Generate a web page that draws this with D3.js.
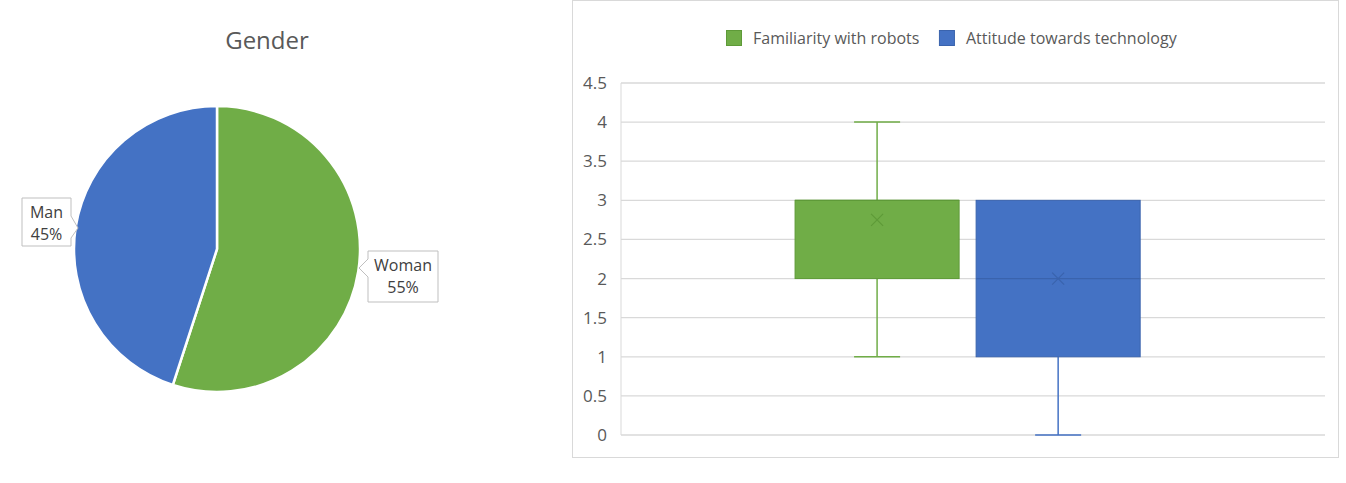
<!DOCTYPE html>
<html>
<head>
<meta charset="utf-8">
<script src="https://cdn.jsdelivr.net/npm/d3@7"></script>
<style>
  body { margin: 0; background: #fff; }
  svg { display: block; font-family: "Open Sans", "Segoe UI", sans-serif; }
</style>
</head>
<body>
<svg width="1346" height="483"></svg>
<script>
// pie data
const genderLabels = ["Woman", "Man"];
const genderValues = [55, 45];
const genderColors = ["#70AD47", "#4472C4"];

// box plot data
const seriesNames = ["Familiarity with robots", "Attitude towards technology"];
const whiskerLow = [1, 0];
const quart1 = [2, 1];
const medians = [3, 2];
const quart3 = [3, 3];
const whiskerHigh = [4, 3];
const means = [2.75, 2];
const seriesFill = ["#70AD47", "#4472C4"];
const seriesEdge = ["#5E9A38", "#3A63AD"];
const yTicks = [0, 0.5, 1, 1.5, 2, 2.5, 3, 3.5, 4, 4.5];

const svg = d3.select("svg");

drawPie();
drawBoxes();

function drawPie() {
    const g = svg.append("g");
    g.append("text")
        .attr("x", 267).attr("y", 49)
        .attr("text-anchor", "middle")
        .style("font-size", "24px")
        .style("fill", "#595959")
        .text("Gender");

    const cx = 217, cy = 249, r = 143;
    const pie = d3.pie().sort(null).value(d => d.value);
    const arcs = pie(genderLabels.map((name, i) => ({ name, value: genderValues[i], color: genderColors[i] })));
    const arc = d3.arc().innerRadius(0).outerRadius(r);

    g.append("g")
        .attr("transform", `translate(${cx},${cy})`)
        .selectAll("path")
        .data(arcs)
        .join("path")
        .attr("d", arc)
        .style("fill", d => d.data.color)
        .style("stroke", "#fff")
        .style("stroke-width", 2.5);

    // callout boxes (box position, size, side the pointer sits on)
    const callouts = [
        { x: 368, y: 251, w: 70, h: 51, side: "left" },
        { x: 22, y: 198, w: 49, h: 48, side: "right" }
    ];
    arcs.forEach((d, i) => {
        const c = callouts[i];
        const pct = Math.round(d.data.value / d3.sum(genderValues) * 100) + "%";
        let pts;
        if (c.side === "left") {
            pts = [[c.x, c.y], [c.x + c.w, c.y], [c.x + c.w, c.y + c.h], [c.x, c.y + c.h],
                   [c.x, c.y + 26], [c.x - 9, c.y + 17], [c.x, c.y + 8]];
        } else {
            pts = [[c.x, c.y], [c.x + c.w, c.y], [c.x + c.w, c.y + 18], [c.x + c.w + 7, c.y + 30],
                   [c.x + c.w, c.y + 40], [c.x + c.w, c.y + c.h], [c.x, c.y + c.h]];
        }
        g.append("path")
            .attr("d", d3.line()(pts) + "Z")
            .style("fill", "#fff")
            .style("stroke", "#BFBFBF")
            .style("stroke-width", 1);
        const t = g.append("text")
            .attr("text-anchor", "middle")
            .style("font-size", "16px")
            .style("fill", "#404040");
        t.append("tspan").attr("x", c.x + c.w / 2).attr("y", c.y + 20).text(d.data.name);
        t.append("tspan").attr("x", c.x + c.w / 2).attr("y", c.y + 42).text(pct);
    });
}

function drawBoxes() {
    const g = svg.append("g");

    // chart frame
    g.append("rect")
        .attr("x", 572.5).attr("y", 0.5)
        .attr("width", 766).attr("height", 457)
        .style("fill", "none")
        .style("stroke", "#D9D9D9");

    const y = d3.scaleLinear().domain([0, 4.5]).range([435, 83]);
    const xCat = d3.scaleBand().domain(["1"]).range([621, 1325])
        .paddingInner(0).paddingOuter(0.52).align(0.485);
    const xSer = d3.scaleBand().domain(seriesNames).range([0, xCat.bandwidth()])
        .paddingInner(0.094);

    // gridlines
    g.append("g")
        .selectAll("line")
        .data(yTicks)
        .join("line")
        .attr("x1", 621).attr("x2", 1325)
        .attr("y1", d => y(d)).attr("y2", d => y(d))
        .style("stroke", "#D9D9D9")
        .style("stroke-width", 1.3);

    // y axis
    const yAxis = g.append("g")
        .attr("transform", "translate(621,0)")
        .call(d3.axisLeft(y).tickValues(yTicks).tickSize(0).tickPadding(14).tickFormat(d3.format("")));
    yAxis.select(".domain").style("stroke", "#D9D9D9").attr("d", `M0,${y(4.5)}V${y(0)}`);
    yAxis.selectAll("text")
        .style("font-family", "'Open Sans', sans-serif")
        .style("font-size", "17px")
        .style("fill", "#595959");

    const x0 = xCat("1");
    const boxes = seriesNames.map((name, i) => ({
        name, i,
        lo: whiskerLow[i], q1: quart1[i], med: medians[i], q3: quart3[i], hi: whiskerHigh[i], mean: means[i]
    }));

    const bg = g.selectAll(".box")
        .data(boxes)
        .join("g")
        .attr("class", "box")
        .attr("transform", d => `translate(${x0 + xSer(d.name)},0)`);

    const bw = xSer.bandwidth();
    const capW = 46;

    // whiskers
    bg.append("line")
        .attr("x1", bw / 2).attr("x2", bw / 2)
        .attr("y1", d => y(d.hi)).attr("y2", d => y(d.q3))
        .style("stroke", d => seriesFill[d.i]).style("stroke-width", 1.5);
    bg.append("line")
        .attr("x1", bw / 2).attr("x2", bw / 2)
        .attr("y1", d => y(d.q1)).attr("y2", d => y(d.lo))
        .style("stroke", d => seriesFill[d.i]).style("stroke-width", 1.5);
    bg.filter(d => d.hi > d.q3).append("line")
        .attr("x1", bw / 2 - capW / 2).attr("x2", bw / 2 + capW / 2)
        .attr("y1", d => y(d.hi)).attr("y2", d => y(d.hi))
        .style("stroke", d => seriesFill[d.i]).style("stroke-width", 1.5);
    bg.filter(d => d.lo < d.q1).append("line")
        .attr("x1", bw / 2 - capW / 2).attr("x2", bw / 2 + capW / 2)
        .attr("y1", d => y(d.lo)).attr("y2", d => y(d.lo))
        .style("stroke", d => seriesFill[d.i]).style("stroke-width", 1.5);

    // box
    bg.append("rect")
        .attr("x", 0).attr("width", bw)
        .attr("y", d => y(d.q3)).attr("height", d => y(d.q1) - y(d.q3))
        .style("fill", d => seriesFill[d.i])
        .style("stroke", d => seriesEdge[d.i])
        .style("stroke-width", 1);

    // median
    bg.append("line")
        .attr("x1", 0).attr("x2", bw)
        .attr("y1", d => y(d.med)).attr("y2", d => y(d.med))
        .style("stroke", d => seriesEdge[d.i]).style("stroke-width", 1.2);

    // mean marker
    const m = 6;
    bg.append("path")
        .attr("d", d => `M${bw / 2 - m},${y(d.mean) - m}L${bw / 2 + m},${y(d.mean) + m}M${bw / 2 + m},${y(d.mean) - m}L${bw / 2 - m},${y(d.mean) + m}`)
        .style("stroke", d => seriesEdge[d.i])
        .style("stroke-width", 1.2)
        .style("fill", "none");

    // legend
    const legend = g.append("g").attr("transform", "translate(726,30)");
    const items = legend.selectAll("g")
        .data(seriesNames)
        .join("g");
    items.append("rect")
        .attr("x", 0.5).attr("y", 0.5)
        .attr("width", 15).attr("height", 15)
        .style("fill", (d, i) => seriesFill[i])
        .style("stroke", (d, i) => seriesEdge[i]);
    items.append("text")
        .attr("x", 27).attr("y", 14)
        .style("font-size", "16px")
        .style("fill", "#595959")
        .text(d => d);
    let off = 0;
    items.each(function () {
        d3.select(this).attr("transform", `translate(${off},0)`);
        off += this.getBBox().width + 20;
    });
}
</script>
</body>
</html>
